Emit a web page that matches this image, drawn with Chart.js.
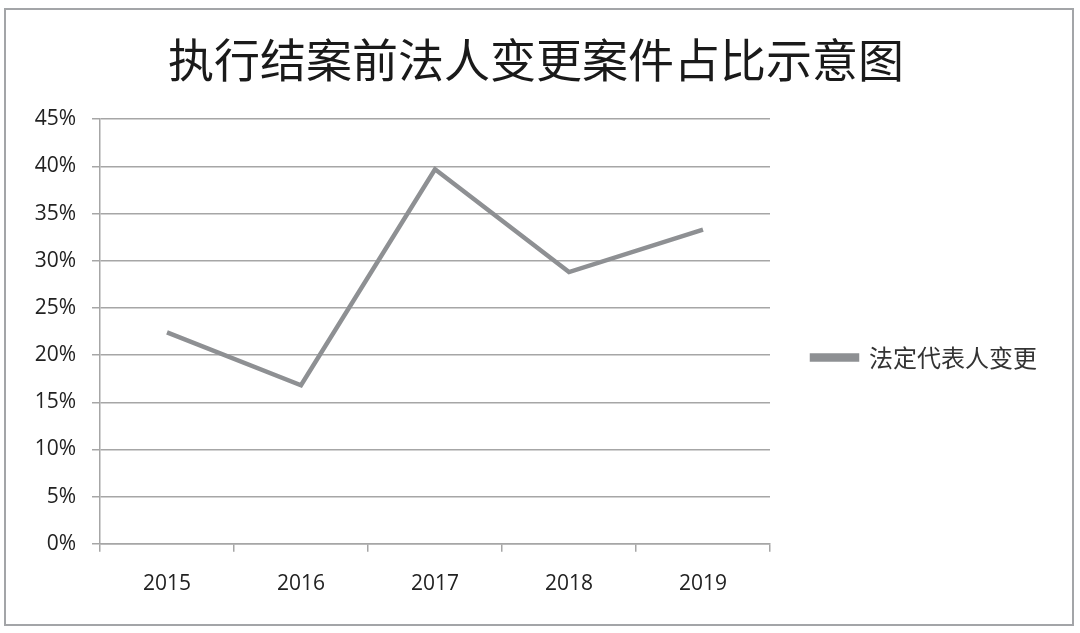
<!DOCTYPE html>
<html>
<head>
<meta charset="utf-8">
<script src="https://cdn.jsdelivr.net/npm/chart.js@4/dist/chart.umd.min.js"></script>
<style>
    html, body { margin: 0; padding: 0; background: #fff; }
    #wrap { position: relative; width: 1080px; height: 633px; }
    #frame { position: absolute; left: 4px; top: 8px; width: 1066px; height: 614px; border: 2px solid #a3a5a8; pointer-events: none; }
    #chart { position: absolute; left: 0; top: 0; }
</style>
</head>
<body>
<div id="wrap">
    <canvas id="chart" width="1080" height="633"></canvas>
    <div id="frame"></div>
</div>
<script>
const years = ['2015', '2016', '2017', '2018', '2019'];
const legalRepChange = [22.4, 16.8, 39.7, 28.8, 33.3]; // %
const seriesName = '法定代表人变更';
const chartTitle = '执行结案前法人变更案件占比示意图';

const gridColor = '#a6a6a6';
const lineColor = '#8e9093';
const labelFont = { family: '"Open Sans", "Liberation Sans", sans-serif', size: 21 };
const LEGEND_WIDTH = 267;

// layout caps side boxes at 1/4 of the width, so widen the legend back after fit
const legendWidthPlugin = {
    id: 'legendWidth',
    beforeLayout(chart) {
        const lg = chart.legend;
        if (lg && !lg._widthPatched) {
            const fit = lg.fit.bind(lg);
            lg.fit = function () {
                fit();
                this.width = LEGEND_WIDTH;
            };
            lg._widthPatched = true;
        }
    }
};

const ctx = document.getElementById('chart').getContext('2d');
const chart = new Chart(ctx, {
    type: 'line',
    data: {
        labels: years,
        datasets: [{
            label: seriesName,
            data: legalRepChange,
            borderColor: lineColor,
            backgroundColor: lineColor,
            borderWidth: 4.5,
            pointRadius: 0,
            tension: 0
        }]
    },
    options: {
        responsive: false,
        animation: false,
        layout: { padding: { left: 35, right: 43, top: 0, bottom: 16 } },
        plugins: {
            title: {
                display: true,
                text: chartTitle,
                color: '#1a1a1a',
                font: { family: '"Noto Sans CJK SC", sans-serif', size: 46, weight: 'normal', lineHeight: 1.2 },
                padding: { top: 32, bottom: 32 }
            },
            legend: {
                position: 'right',
                fullSize: false,
                // blank legend title only nudges the entry down
                title: { display: true, text: ' ', font: { size: 20, lineHeight: 1.2 }, padding: 14 },
                labels: {
                    boxWidth: 45,
                    boxHeight: 4,
                    padding: 42,
                    color: '#333',
                    font: { family: '"Noto Sans CJK SC", sans-serif', size: 24 }
                }
            },
            tooltip: { enabled: false }
        },
        scales: {
            x: {
                offset: true,
                grid: { offset: true, drawOnChartArea: false, drawTicks: true, tickLength: 8, color: gridColor, lineWidth: 1.5 },
                border: { color: gridColor, width: 1.5 },
                ticks: { color: '#222', font: labelFont, padding: 20, maxRotation: 0 }
            },
            y: {
                min: 0,
                max: 45,
                afterFit: (scale) => { scale.width = 65; },
                grid: { color: gridColor, lineWidth: 1.5, tickLength: 8 },
                border: { color: gridColor, width: 1.5 },
                ticks: {
                    stepSize: 5,
                    color: '#222',
                    font: labelFont,
                    padding: 16,
                    callback: (v) => v + '%'
                }
            }
        }
    },
    plugins: [legendWidthPlugin]
});
</script>
</body>
</html>
